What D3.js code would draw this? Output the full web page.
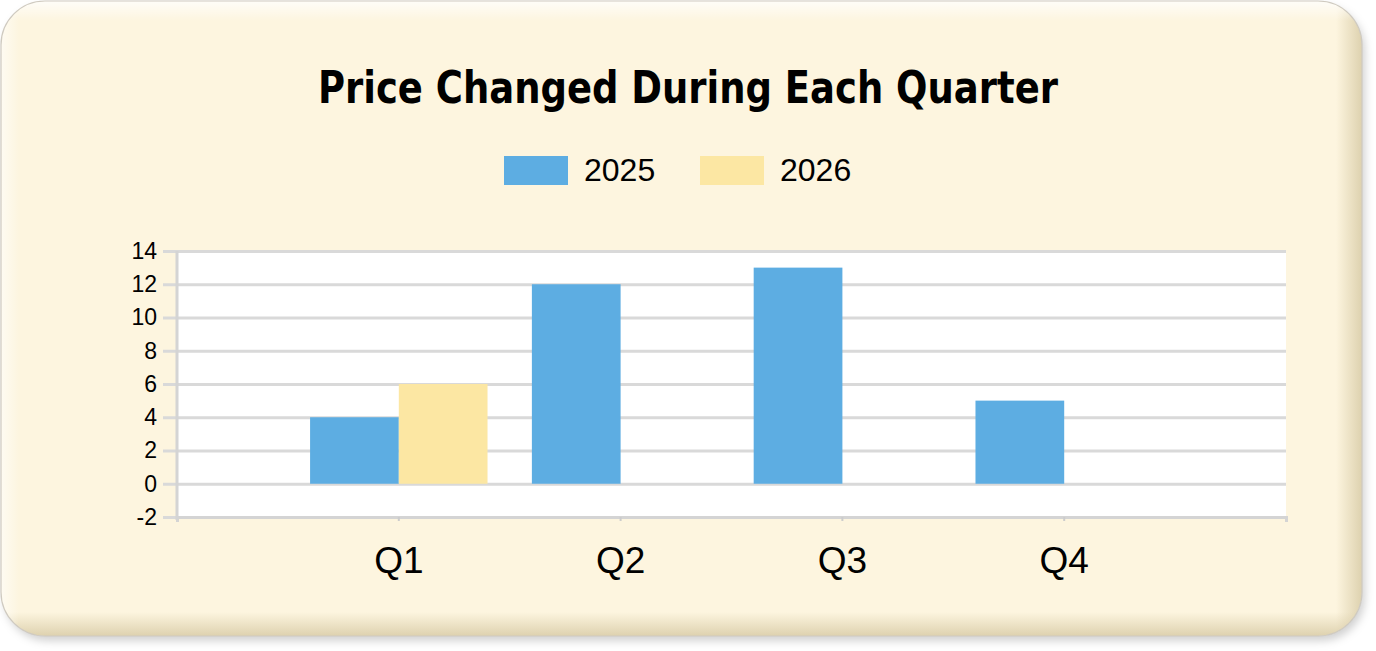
<!DOCTYPE html>
<html>
<head>
<meta charset="utf-8">
<script src="https://cdn.jsdelivr.net/npm/d3@7"></script>
<style>
html,body{margin:0;padding:0;background:#ffffff;}
svg{display:block;}
</style>
</head>
<body>
<svg id="chart" width="1376" height="651"></svg>
<script>
const categories = ["Q1", "Q2", "Q3", "Q4"];
const seriesNames = ["2025", "2026"];
const values2025 = [4, 12, 13, 5];
const values2026 = [6, null, null, null];
const yTicks = [-2, 0, 2, 4, 6, 8, 10, 12, 14];
const titleText = "Price Changed During Each Quarter";
const seriesColors = ["#5dade2", "#fce7a3"];

const svg = d3.select("#chart");
const defs = svg.append("defs");

// card shadow
const f = defs.append("filter").attr("id", "shadow").attr("x", "-5%").attr("y", "-5%").attr("width", "110%").attr("height", "115%");
f.append("feDropShadow").attr("dx", 3).attr("dy", 5).attr("stdDeviation", 4).attr("flood-color", "#000").attr("flood-opacity", 0.18);

const card = {x: 1, y: 1, w: 1361, h: 635, r: 44};
defs.append("clipPath").attr("id", "cardClip").append("rect")
  .attr("x", card.x).attr("y", card.y).attr("width", card.w).attr("height", card.h)
  .attr("rx", card.r).attr("ry", card.r);

const gR = defs.append("linearGradient").attr("id", "bevelR").attr("x1", 0).attr("x2", 1).attr("y1", 0).attr("y2", 0);
gR.append("stop").attr("offset", "0%").attr("stop-color", "#d8cba6").attr("stop-opacity", 0);
gR.append("stop").attr("offset", "100%").attr("stop-color", "#d8cba6").attr("stop-opacity", 0.85);
const gB = defs.append("linearGradient").attr("id", "bevelB").attr("x1", 0).attr("x2", 0).attr("y1", 0).attr("y2", 1);
gB.append("stop").attr("offset", "0%").attr("stop-color", "#d8cba6").attr("stop-opacity", 0);
gB.append("stop").attr("offset", "100%").attr("stop-color", "#d8cba6").attr("stop-opacity", 0.85);
const gT = defs.append("linearGradient").attr("id", "bevelT").attr("x1", 0).attr("x2", 0).attr("y1", 0).attr("y2", 1);
gT.append("stop").attr("offset", "0%").attr("stop-color", "#ffffff").attr("stop-opacity", 0.8);
gT.append("stop").attr("offset", "100%").attr("stop-color", "#ffffff").attr("stop-opacity", 0);
const gL = defs.append("linearGradient").attr("id", "bevelL").attr("x1", 0).attr("x2", 1).attr("y1", 0).attr("y2", 0);
gL.append("stop").attr("offset", "0%").attr("stop-color", "#ffffff").attr("stop-opacity", 0.6);
gL.append("stop").attr("offset", "100%").attr("stop-color", "#ffffff").attr("stop-opacity", 0);

svg.append("rect")
  .attr("x", card.x).attr("y", card.y).attr("width", card.w).attr("height", card.h)
  .attr("rx", card.r).attr("ry", card.r)
  .attr("fill", "#fdf5df").attr("filter", "url(#shadow)");

const bevel = svg.append("g").attr("clip-path", "url(#cardClip)");
bevel.append("rect").attr("x", card.x + card.w - 26).attr("y", card.y).attr("width", 26).attr("height", card.h).attr("fill", "url(#bevelR)");
bevel.append("rect").attr("x", card.x).attr("y", card.y + card.h - 24).attr("width", card.w).attr("height", 24).attr("fill", "url(#bevelB)");
bevel.append("rect").attr("x", card.x).attr("y", card.y).attr("width", card.w).attr("height", 20).attr("fill", "url(#bevelT)");
bevel.append("rect").attr("x", card.x).attr("y", card.y).attr("width", 18).attr("height", card.h).attr("fill", "url(#bevelL)");

svg.append("rect")
  .attr("x", card.x).attr("y", card.y).attr("width", card.w).attr("height", card.h)
  .attr("rx", card.r).attr("ry", card.r)
  .attr("fill", "none").attr("stroke", "#cfcac0").attr("stroke-width", 1.2);

// title
svg.append("text")
  .attr("x", 688).attr("y", 103)
  .attr("text-anchor", "middle")
  .attr("font-family", "'DejaVu Sans Condensed', 'DejaVu Sans', sans-serif")
  .attr("font-stretch", "condensed")
  .attr("font-weight", "bold")
  .attr("font-size", 44)
  .attr("textLength", 740)
  .attr("lengthAdjust", "spacingAndGlyphs")
  .attr("fill", "#000")
  .text(titleText);

// legend
const legendX = [504, 700];
const legend = svg.append("g");
seriesNames.forEach((name, i) => {
  legend.append("rect").attr("x", legendX[i]).attr("y", 156).attr("width", 64).attr("height", 29).attr("fill", seriesColors[i]);
  legend.append("text").attr("x", legendX[i] + 80).attr("y", 181)
    .attr("font-family", "'Liberation Sans', Arial, sans-serif").attr("font-size", 32).attr("fill", "#000").text(name);
});

// plot
const plot = {x: 177, y: 251, w: 1109, h: 266};
const g = svg.append("g").attr("transform", `translate(${plot.x},${plot.y})`);
g.append("rect").attr("width", plot.w).attr("height", plot.h).attr("fill", "#ffffff");

const y = d3.scaleLinear().domain([-2, 14]).range([plot.h, 0]);
const x = d3.scaleBand().domain(categories).range([0, plot.w]).paddingInner(0).paddingOuter(0.5);
const inner = d3.scaleBand().domain(seriesNames).range([x.bandwidth() * 0.1, x.bandwidth() * 0.9]).padding(0);

// grid + y axis
const yAxis = d3.axisLeft(y).tickValues(yTicks).tickSize(-plot.w).tickPadding(20).tickFormat(d => String(d));
const yg = g.append("g").call(yAxis);
yg.select(".domain").remove();
yg.selectAll(".tick line").attr("x1", -14).attr("stroke", "#d9d9d9").attr("stroke-width", 3);
yg.selectAll(".tick text").attr("font-family", "'Liberation Sans', Arial, sans-serif").attr("font-size", 23).attr("fill", "#000");

// bars
const seriesData = [values2025, values2026];
seriesData.forEach((vals, si) => {
  g.append("g").selectAll("rect")
    .data(categories.map((c, i) => ({c, v: vals[i]})).filter(d => d.v != null))
    .join("rect")
    .attr("x", d => x(d.c) + inner(seriesNames[si]))
    .attr("width", inner.bandwidth())
    .attr("y", d => y(Math.max(0, d.v)))
    .attr("height", d => Math.abs(y(d.v) - y(0)))
    .attr("fill", seriesColors[si]);
});

// y axis line
g.append("line").attr("x1", 0).attr("x2", 0).attr("y1", 0).attr("y2", plot.h + 3)
  .attr("stroke", "#d4d4d4").attr("stroke-width", 3);

// x axis
const xAxis = d3.axisBottom(x).tickSizeInner(4).tickSizeOuter(5).tickPadding(26);
const xg = g.append("g").attr("transform", `translate(0,${plot.h})`).call(xAxis);
xg.select(".domain").attr("stroke", "#d4d4d4").attr("stroke-width", 3);
xg.selectAll(".tick line").attr("stroke", "#cccccc").attr("stroke-width", 2);
xg.selectAll(".tick text").attr("font-family", "'Liberation Sans', Arial, sans-serif").attr("font-size", 37).attr("fill", "#000");
</script>
</body>
</html>
